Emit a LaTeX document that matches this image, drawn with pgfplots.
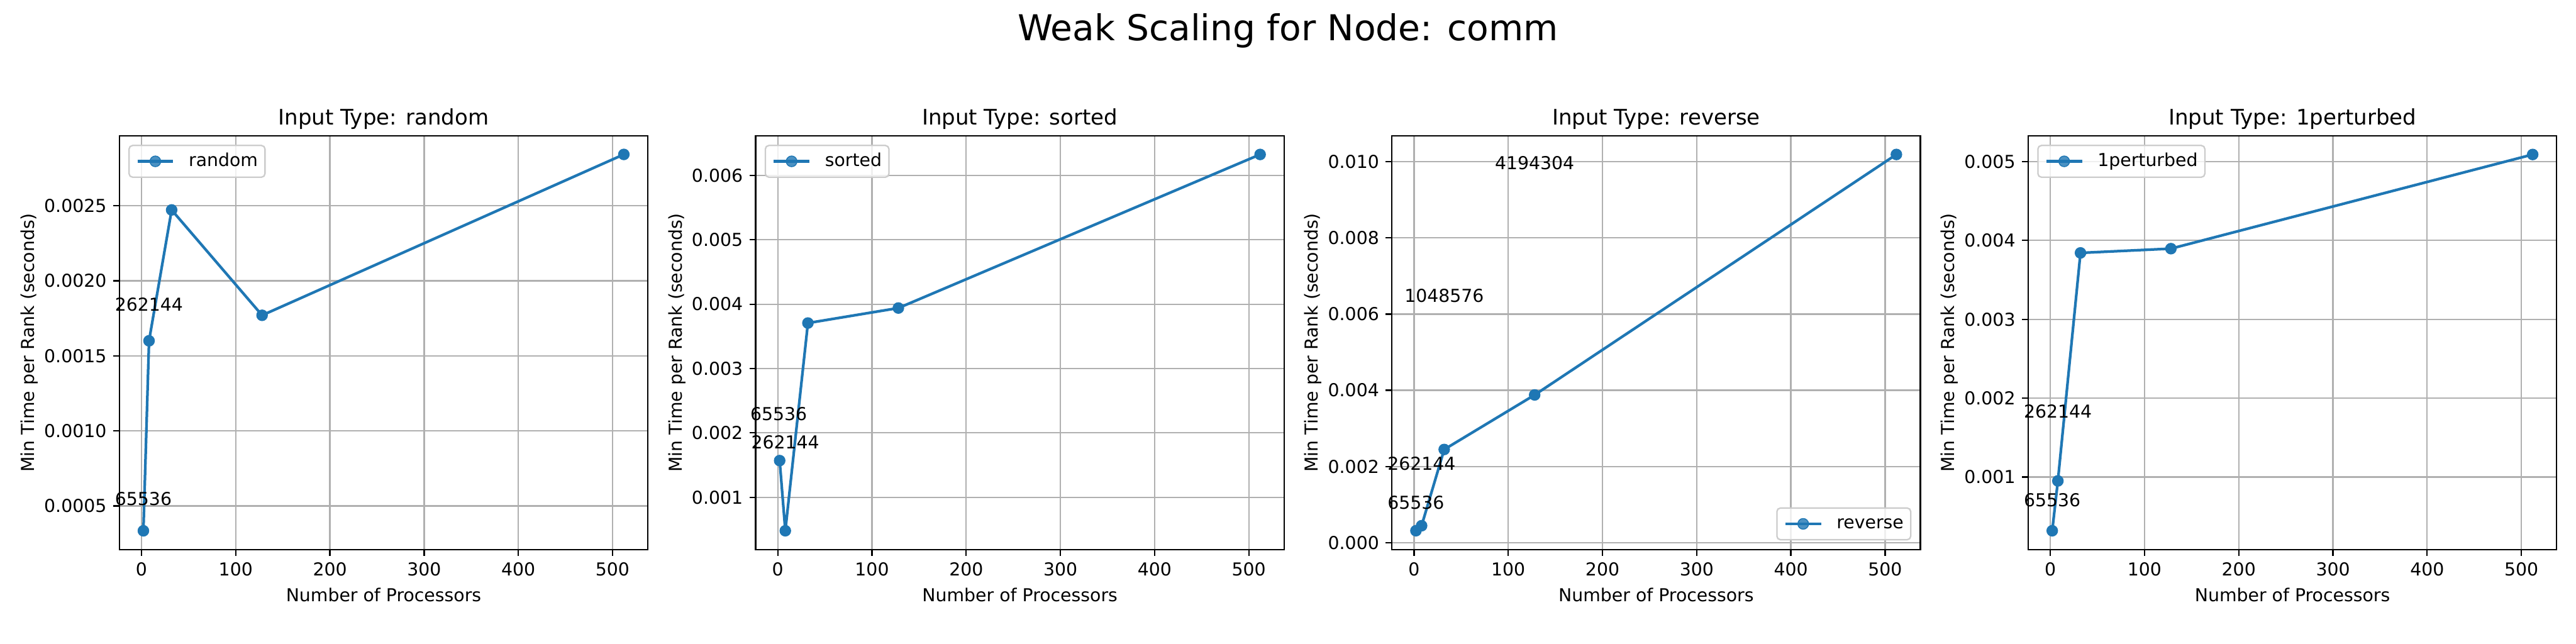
\documentclass[border=0pt]{standalone}
\usepackage{fontspec}
\setmainfont{DejaVu Sans}
\usepackage{pgfplots}
\pgfplotsset{compat=1.18}
\definecolor{mplblue}{HTML}{1F77B4}
\definecolor{mplgrid}{HTML}{B0B0B0}
\definecolor{legedge}{HTML}{CCCCCC}
\tikzset{ann/.style={anchor=base, inner sep=0pt, font=\fontsize{10}{12}\selectfont},
  mplline/.style={color=mplblue, line width=1.5pt, mark=*, mark size=3pt, mark options={solid, fill=mplblue, draw=mplblue, line width=0.5pt}}}
\pgfplotsset{
  mpl/.style={
    scale only axis,
    width=4.1033in, height=3.2133in,
    anchor=south west,
    clip=false,
    xmin=-23.5, xmax=537.5,
    xtick={0,100,200,300,400,500},
    xticklabels={0,100,200,300,400,500},
    scaled y ticks=false, scaled x ticks=false,
    grid=major,
    major grid style={color=mplgrid, line width=0.8pt},
    axis line style={line width=0.8pt, black},
    tick style={line width=0.8pt, black},
    tick align=outside,
    major tick length=3.5pt,
    xtick pos=bottom, ytick pos=left,
    ticklabel style={font=\fontsize{10}{12}\selectfont},
    xticklabel style={anchor=north, inner sep=0pt, yshift=-3.5pt},
    yticklabel style={anchor=east, inner sep=0pt, xshift=-3.5pt},
    label style={font=\fontsize{10}{12}\selectfont},
    xlabel={Number of Processors},
    ylabel={Min Time per Rank (seconds)},
    xlabel style={at={(axis description cs:0.5,0)}, anchor=base, yshift=-29.3pt, inner sep=0pt},
    title style={font=\fontsize{12}{14.4}\selectfont, at={(axis description cs:0.5,1)}, anchor=base, yshift=0pt, inner sep=0pt},
    legend style={font=\fontsize{10}{12}\selectfont, draw=legedge, line width=0.8pt, rounded corners=2pt,
      fill=white, fill opacity=0.8, text opacity=1, inner sep=4pt,
      nodes={inner sep=0pt, text height=7.6pt, text depth=2.2pt},
      column sep=0pt,
      /tikz/every odd column/.append style={column sep=8pt}},
    legend cell align=left,
    legend image code/.code={\draw[mark repeat=2,mark phase=2,##1] plot coordinates {(0pt,0pt) (10pt,0pt) (20pt,0pt)};},
  },
}
\begin{document}
\begin{tikzpicture}
\path[use as bounding box] (0,0) rectangle (20in,5in);
\node[anchor=base, font=\fontsize{20}{24}\selectfont] at (10in,4.687in) {Weak Scaling for Node: comm};

% random
\begin{axis}[mpl, at={(0.9267in,0.7333in)},
  ymin=0.000209, ymax=0.002967,
  ytick={0.0005,0.0010,0.0015,0.0020,0.0025},
  yticklabels={0.0005,0.0010,0.0015,0.0020,0.0025},
  title={Input Type: random},
  legend style={at={(0.017,0.978)}, anchor=north west}]
\addplot[mplline] coordinates {(2,0.000334) (8,0.00160) (32,0.002472) (128,0.00177) (512,0.002842)};
\addlegendentry{random}
\node[ann] at (axis cs:2,0.000505) {65536};
\node[ann] at (axis cs:8,0.00180) {262144};
\end{axis}

% sorted
\begin{axis}[mpl, at={(5.8667in,0.7333in)},
  ymin=0.000188, ymax=0.006618,
  ytick={0.001,0.002,0.003,0.004,0.005,0.006},
  yticklabels={0.001,0.002,0.003,0.004,0.005,0.006},
  title={Input Type: sorted},
  legend style={at={(0.017,0.978)}, anchor=north west}]
\addplot[mplline] coordinates {(2,0.00157) (8,0.00048) (32,0.003707) (128,0.00394) (512,0.006326)};
\addlegendentry{sorted}
\node[ann] at (axis cs:1,0.00219) {65536};
\node[ann] at (axis cs:8,0.00175) {262144};
\end{axis}

% reverse
\begin{axis}[mpl, at={(10.8067in,0.7333in)},
  ymin=-0.000177, ymax=0.01068,
  ytick={0,0.002,0.004,0.006,0.008,0.010},
  yticklabels={0.000,0.002,0.004,0.006,0.008,0.010},
  title={Input Type: reverse},
  legend style={at={(0.983,0.022)}, anchor=south east}]
\addplot[mplline] coordinates {(2,0.000317) (8,0.000448) (32,0.002448) (128,0.003879) (512,0.010187)};
\addlegendentry{reverse}
\node[ann] at (axis cs:128,0.00979) {4194304};
\node[ann] at (axis cs:32,0.00632) {1048576};
\node[ann] at (axis cs:8,0.0019) {262144};
\node[ann] at (axis cs:2,0.000878) {65536};
\end{axis}

% 1perturbed
\begin{axis}[mpl, at={(15.7467in,0.7333in)},
  ymin=0.0000795, ymax=0.005329,
  ytick={0.001,0.002,0.003,0.004,0.005},
  yticklabels={0.001,0.002,0.003,0.004,0.005},
  title={Input Type: 1perturbed},
  legend style={at={(0.017,0.978)}, anchor=north west}]
\addplot[mplline] coordinates {(2,0.000318) (8,0.00095) (32,0.003842) (128,0.003896) (512,0.00509)};
\addlegendentry{1perturbed}
\node[ann] at (axis cs:8,0.00175) {262144};
\node[ann] at (axis cs:2,0.000625) {65536};
\end{axis}
\end{tikzpicture}
\end{document}
